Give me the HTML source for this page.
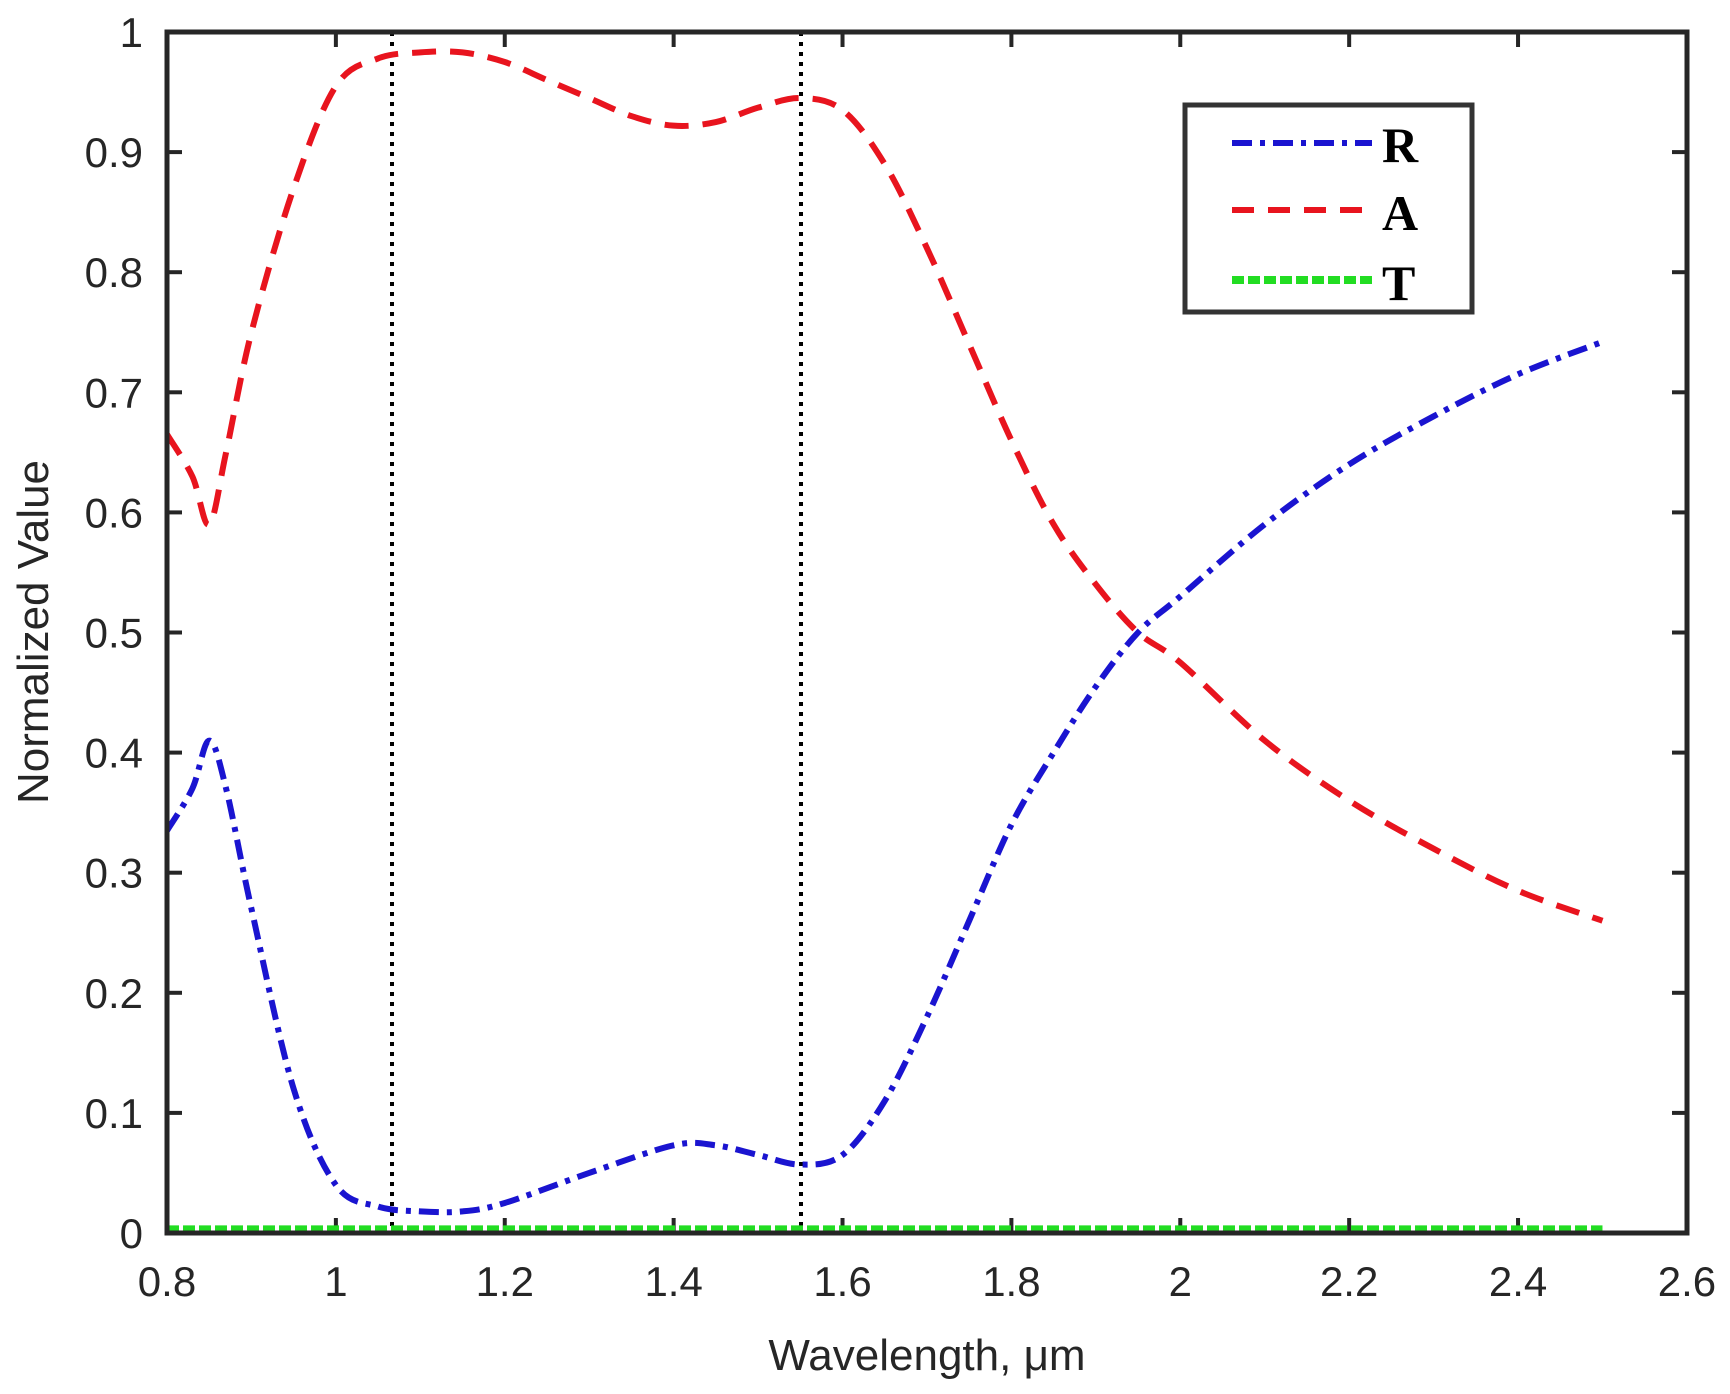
<!DOCTYPE html>
<html><head><style>body{margin:0;background:#fff}svg{display:block}</style></head>
<body>
<svg id="s" width="1730" height="1394" xmlns="http://www.w3.org/2000/svg" font-family="Liberation Sans, sans-serif">
<rect width="1730" height="1394" fill="#fff"/>
<g id="ticks" stroke="#262626" stroke-width="4"></g>
<g id="lbl" fill="#262626" font-size="42"></g>
<line x1="392" y1="32" x2="392" y2="1233" stroke="#000" stroke-width="4" stroke-dasharray="4,6"/>
<line x1="801" y1="32" x2="801" y2="1233" stroke="#000" stroke-width="4" stroke-dasharray="4,6"/>
<path id="T" fill="none" stroke="#22dd22" stroke-width="8" stroke-dasharray="12,4"/>
<path id="A" fill="none" stroke="#e8141e" stroke-width="6" stroke-dasharray="24,14"/>
<path id="R" fill="none" stroke="#1a14d0" stroke-width="6" stroke-dasharray="20,8,5,8"/>
<rect x="167" y="32" width="1520" height="1201" fill="none" stroke="#262626" stroke-width="5"/>
<rect x="1185" y="105" width="287" height="207" fill="#fff" stroke="#333" stroke-width="5"/>
<line x1="1232" y1="143" x2="1372" y2="143" stroke="#1a14d0" stroke-width="6" stroke-dasharray="20,8,5,8"/>
<line x1="1232" y1="210" x2="1372" y2="210" stroke="#e8141e" stroke-width="6" stroke-dasharray="22,14"/>
<line x1="1232" y1="280" x2="1372" y2="280" stroke="#22dd22" stroke-width="8" stroke-dasharray="12,4"/>
<g font-family="Liberation Serif, serif" font-weight="bold" font-size="50" fill="#000">
<text x="1382" y="162">R</text><text x="1382" y="230">A</text><text x="1382" y="300">T</text></g>
<text x="927" y="1370" text-anchor="middle" font-size="44" fill="#262626">Wavelength, μm</text>
<text transform="translate(48,632) rotate(-90)" text-anchor="middle" font-size="44" fill="#262626">Normalized Value</text>
</svg>
<script>
var X=function(w){return 167+(w-0.8)*844.4},Y=function(v){return 1233-v*1201};
var t=document.getElementById('ticks'),l=document.getElementById('lbl'),ns='http://www.w3.org/2000/svg';
function el(p,n,a,txt){var e=document.createElementNS(ns,n);for(var k in a)e.setAttribute(k,a[k]);if(txt!=null)e.textContent=txt;p.appendChild(e);}
for(var i=0;i<=9;i++){var w=0.8+i*0.2,x=X(w);
el(t,'line',{x1:x,y1:1233,x2:x,y2:1218});el(t,'line',{x1:x,y1:32,x2:x,y2:47});
el(l,'text',{x:x,y:1296,'text-anchor':'middle'},(Math.round(w*10)/10).toString());}
for(var i=0;i<=10;i++){var v=i/10,y=Y(v);
el(t,'line',{x1:167,y1:y,x2:182,y2:y});el(t,'line',{x1:1687,y1:y,x2:1672,y2:y});
el(l,'text',{x:143,y:y+15,'text-anchor':'end'},i==10?'1':(i==0?'0':'0.'+i));}
function path(d){var p=d.map(function(q){return [X(q[0]),Y(q[1])]});var s='M'+p[0][0]+','+p[0][1];
for(var i=0;i<p.length-1;i++){var p0=p[i-1]||p[i],p1=p[i],p2=p[i+1],p3=p[i+2]||p2;
s+='C'+(p1[0]+(p2[0]-p0[0])/6)+','+(p1[1]+(p2[1]-p0[1])/6)+' '+(p2[0]-(p3[0]-p1[0])/6)+','+(p2[1]-(p3[1]-p1[1])/6)+' '+p2[0]+','+p2[1];}return s;}
var A=[[0.8,0.665],[0.83,0.63],[0.85,0.59],[0.87,0.65],[0.9,0.75],[0.95,0.87],[1.0,0.955],[1.05,0.978],[1.1,0.983],[1.15,0.983],[1.2,0.975],[1.25,0.96],[1.3,0.945],[1.35,0.93],[1.4,0.922],[1.45,0.925],[1.5,0.937],[1.55,0.945],[1.6,0.935],[1.65,0.89],[1.7,0.82],[1.75,0.74],[1.8,0.66],[1.85,0.59],[1.9,0.54],[1.95,0.5],[2.0,0.475],[2.1,0.41],[2.2,0.36],[2.3,0.32],[2.4,0.285],[2.5,0.26]];
var R=[[0.8,0.335],[0.83,0.37],[0.85,0.41],[0.87,0.37],[0.9,0.27],[0.95,0.12],[1.0,0.04],[1.05,0.022],[1.1,0.018],[1.15,0.018],[1.2,0.025],[1.3,0.05],[1.4,0.073],[1.45,0.073],[1.5,0.065],[1.55,0.057],[1.6,0.065],[1.65,0.11],[1.7,0.18],[1.75,0.26],[1.8,0.34],[1.85,0.4],[1.9,0.455],[1.95,0.5],[2.0,0.53],[2.1,0.59],[2.2,0.64],[2.3,0.68],[2.4,0.715],[2.5,0.742]];
document.getElementById('A').setAttribute('d',path(A));
document.getElementById('R').setAttribute('d',path(R));
document.getElementById('T').setAttribute('d','M'+X(0.8)+','+Y(0.003)+'L'+X(2.5)+','+Y(0.003));
</script>
</body></html>
